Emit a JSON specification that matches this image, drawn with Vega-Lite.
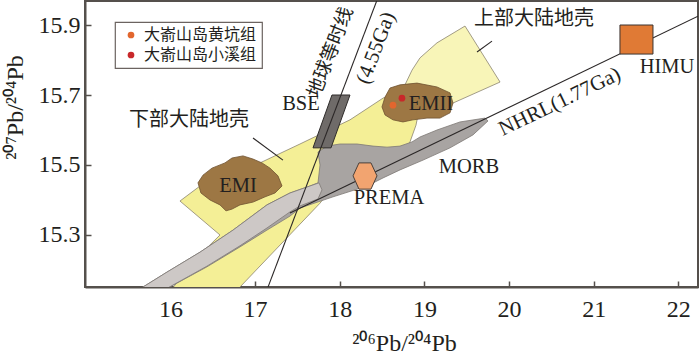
{
  "$schema": "https://vega.github.io/schema/vega-lite/v6.json",
  "width": 613,
  "height": 286,
  "autosize": {"type": "none"},
  "padding": {"left": 85, "top": 1, "right": 2, "bottom": 65},
  "background": "white",
  "config": {
    "view": {"stroke": "#55504c", "strokeWidth": 2},
    "axis": {
      "grid": false,
      "domainColor": "#55504c",
      "domainWidth": 2,
      "tickColor": "#55504c",
      "tickWidth": 1.5,
      "tickSize": -6,
      "labelFont": "Liberation Serif",
      "labelFontSize": 24,
      "labelColor": "#231f20",
      "titleFont": "Liberation Serif",
      "titleFontSize": 24,
      "titleFontWeight": "normal",
      "titleColor": "#231f20",
      "zindex": 1
    },
    "legend": {
      "orient": "none",
      "legendX": 30,
      "legendY": 21,
      "padding": 5,
      "strokeColor": "#6b6360",
      "strokeWidth": 1.2,
      "fillColor": "white",
      "symbolType": "circle",
      "symbolSize": 45,
      "symbolStrokeWidth": 0,
      "symbolOffset": 3,
      "labelOffset": 5,
      "labelFont": "Noto Sans CJK SC",
      "labelFontSize": 16,
      "labelColor": "#231f20",
      "labelLimit": 300,
      "rowPadding": 4
    }
  },
  "datasets": {
    "poly": [
      {"s": "lower", "i": 0, "x": 15.965, "y": 15.13},
      {"s": "lower", "i": 1, "x": 16.737, "y": 15.13},
      {"s": "lower", "i": 2, "x": 17.767, "y": 15.391},
      {"s": "lower", "i": 3, "x": 17.979, "y": 15.457},
      {"s": "lower", "i": 4, "x": 18.476, "y": 15.514},
      {"s": "lower", "i": 5, "x": 18.771, "y": 15.543},
      {"s": "lower", "i": 6, "x": 18.83, "y": 15.566},
      {"s": "lower", "i": 7, "x": 18.901, "y": 15.614},
      {"s": "lower", "i": 8, "x": 18.948, "y": 15.671},
      {"s": "lower", "i": 9, "x": 18.712, "y": 15.714},
      {"s": "lower", "i": 10, "x": 18.511, "y": 15.691},
      {"s": "lower", "i": 11, "x": 18.121, "y": 15.629},
      {"s": "lower", "i": 12, "x": 17.53, "y": 15.56},
      {"s": "lower", "i": 13, "x": 17.058, "y": 15.506},
      {"s": "lower", "i": 14, "x": 16.644, "y": 15.48},
      {"s": "lower", "i": 15, "x": 16.349, "y": 15.44},
      {"s": "lower", "i": 16, "x": 16.112, "y": 15.397},
      {"s": "lower", "i": 17, "x": 16.585, "y": 15.3},
      {"s": "lower", "i": 18, "x": 16.289, "y": 15.229},
      {"s": "lower", "i": 19, "x": 15.965, "y": 15.13},
      {"s": "upper", "i": 0, "x": 18.771, "y": 15.729},
      {"s": "upper", "i": 1, "x": 18.854, "y": 15.771},
      {"s": "upper", "i": 2, "x": 18.948, "y": 15.806},
      {"s": "upper", "i": 3, "x": 19.149, "y": 15.849},
      {"s": "upper", "i": 4, "x": 19.48, "y": 15.897},
      {"s": "upper", "i": 5, "x": 19.894, "y": 15.737},
      {"s": "upper", "i": 6, "x": 19.338, "y": 15.677},
      {"s": "upper", "i": 7, "x": 19.066, "y": 15.651},
      {"s": "upper", "i": 8, "x": 18.771, "y": 15.729},
      {"s": "dark", "i": 0, "x": 15.533, "y": 15.13},
      {"s": "dark", "i": 1, "x": 15.959, "y": 15.194},
      {"s": "dark", "i": 2, "x": 16.349, "y": 15.251},
      {"s": "dark", "i": 3, "x": 16.739, "y": 15.314},
      {"s": "dark", "i": 4, "x": 17.14, "y": 15.386},
      {"s": "dark", "i": 5, "x": 17.412, "y": 15.42},
      {"s": "dark", "i": 6, "x": 17.648, "y": 15.44},
      {"s": "dark", "i": 7, "x": 17.743, "y": 15.449},
      {"s": "dark", "i": 8, "x": 17.767, "y": 15.5},
      {"s": "dark", "i": 9, "x": 17.743, "y": 15.537},
      {"s": "dark", "i": 10, "x": 17.849, "y": 15.554},
      {"s": "dark", "i": 11, "x": 18.003, "y": 15.56},
      {"s": "dark", "i": 12, "x": 18.204, "y": 15.56},
      {"s": "dark", "i": 13, "x": 18.393, "y": 15.554},
      {"s": "dark", "i": 14, "x": 18.558, "y": 15.551},
      {"s": "dark", "i": 15, "x": 18.712, "y": 15.554},
      {"s": "dark", "i": 16, "x": 18.854, "y": 15.566},
      {"s": "dark", "i": 17, "x": 18.948, "y": 15.58},
      {"s": "dark", "i": 18, "x": 19.149, "y": 15.6},
      {"s": "dark", "i": 19, "x": 19.421, "y": 15.623},
      {"s": "dark", "i": 20, "x": 19.716, "y": 15.634},
      {"s": "dark", "i": 21, "x": 19.752, "y": 15.626},
      {"s": "dark", "i": 22, "x": 19.574, "y": 15.586},
      {"s": "dark", "i": 23, "x": 19.303, "y": 15.549},
      {"s": "dark", "i": 24, "x": 18.984, "y": 15.514},
      {"s": "dark", "i": 25, "x": 18.712, "y": 15.486},
      {"s": "dark", "i": 26, "x": 18.511, "y": 15.463},
      {"s": "dark", "i": 27, "x": 18.322, "y": 15.44},
      {"s": "dark", "i": 28, "x": 17.92, "y": 15.409},
      {"s": "dark", "i": 29, "x": 17.53, "y": 15.377},
      {"s": "dark", "i": 30, "x": 17.412, "y": 15.354},
      {"s": "dark", "i": 31, "x": 17.14, "y": 15.314},
      {"s": "dark", "i": 32, "x": 16.821, "y": 15.266},
      {"s": "dark", "i": 33, "x": 16.431, "y": 15.209},
      {"s": "dark", "i": 34, "x": 15.829, "y": 15.13},
      {"s": "dark", "i": 35, "x": 15.533, "y": 15.13},
      {"s": "light", "i": 0, "x": 15.533, "y": 15.13},
      {"s": "light", "i": 1, "x": 15.959, "y": 15.194},
      {"s": "light", "i": 2, "x": 16.349, "y": 15.251},
      {"s": "light", "i": 3, "x": 16.739, "y": 15.314},
      {"s": "light", "i": 4, "x": 17.14, "y": 15.386},
      {"s": "light", "i": 5, "x": 17.412, "y": 15.42},
      {"s": "light", "i": 6, "x": 17.648, "y": 15.44},
      {"s": "light", "i": 7, "x": 17.755, "y": 15.449},
      {"s": "light", "i": 8, "x": 17.79, "y": 15.429},
      {"s": "light", "i": 9, "x": 17.743, "y": 15.403},
      {"s": "light", "i": 10, "x": 17.53, "y": 15.383},
      {"s": "light", "i": 11, "x": 17.412, "y": 15.366},
      {"s": "light", "i": 12, "x": 17.14, "y": 15.32},
      {"s": "light", "i": 13, "x": 16.821, "y": 15.269},
      {"s": "light", "i": 14, "x": 16.431, "y": 15.211},
      {"s": "light", "i": 15, "x": 15.829, "y": 15.13},
      {"s": "light", "i": 16, "x": 15.533, "y": 15.13},
      {"s": "emi", "i": 0, "x": 16.325, "y": 15.449},
      {"s": "emi", "i": 1, "x": 16.384, "y": 15.471},
      {"s": "emi", "i": 2, "x": 16.49, "y": 15.491},
      {"s": "emi", "i": 3, "x": 16.644, "y": 15.506},
      {"s": "emi", "i": 4, "x": 16.727, "y": 15.52},
      {"s": "emi", "i": 5, "x": 16.857, "y": 15.526},
      {"s": "emi", "i": 6, "x": 16.975, "y": 15.517},
      {"s": "emi", "i": 7, "x": 17.081, "y": 15.506},
      {"s": "emi", "i": 8, "x": 17.176, "y": 15.491},
      {"s": "emi", "i": 9, "x": 17.27, "y": 15.469},
      {"s": "emi", "i": 10, "x": 17.318, "y": 15.44},
      {"s": "emi", "i": 11, "x": 17.235, "y": 15.42},
      {"s": "emi", "i": 12, "x": 17.117, "y": 15.409},
      {"s": "emi", "i": 13, "x": 16.975, "y": 15.394},
      {"s": "emi", "i": 14, "x": 16.821, "y": 15.386},
      {"s": "emi", "i": 15, "x": 16.727, "y": 15.374},
      {"s": "emi", "i": 16, "x": 16.656, "y": 15.369},
      {"s": "emi", "i": 17, "x": 16.585, "y": 15.386},
      {"s": "emi", "i": 18, "x": 16.467, "y": 15.4},
      {"s": "emi", "i": 19, "x": 16.36, "y": 15.42},
      {"s": "emi", "i": 20, "x": 16.325, "y": 15.449},
      {"s": "emii", "i": 0, "x": 18.535, "y": 15.694},
      {"s": "emii", "i": 1, "x": 18.594, "y": 15.72},
      {"s": "emii", "i": 2, "x": 18.712, "y": 15.729},
      {"s": "emii", "i": 3, "x": 18.913, "y": 15.734},
      {"s": "emii", "i": 4, "x": 19.149, "y": 15.723},
      {"s": "emii", "i": 5, "x": 19.303, "y": 15.706},
      {"s": "emii", "i": 6, "x": 19.338, "y": 15.677},
      {"s": "emii", "i": 7, "x": 19.303, "y": 15.649},
      {"s": "emii", "i": 8, "x": 19.184, "y": 15.634},
      {"s": "emii", "i": 9, "x": 19.031, "y": 15.634},
      {"s": "emii", "i": 10, "x": 18.865, "y": 15.629},
      {"s": "emii", "i": 11, "x": 18.747, "y": 15.623},
      {"s": "emii", "i": 12, "x": 18.629, "y": 15.629},
      {"s": "emii", "i": 13, "x": 18.535, "y": 15.643},
      {"s": "emii", "i": 14, "x": 18.499, "y": 15.666},
      {"s": "emii", "i": 15, "x": 18.535, "y": 15.694},
      {"s": "bse", "i": 0, "x": 17.684, "y": 15.549},
      {"s": "bse", "i": 1, "x": 17.897, "y": 15.549},
      {"s": "bse", "i": 2, "x": 18.121, "y": 15.7},
      {"s": "bse", "i": 3, "x": 17.908, "y": 15.7},
      {"s": "bse", "i": 4, "x": 17.684, "y": 15.549},
      {"s": "prema", "i": 0, "x": 18.157, "y": 15.469},
      {"s": "prema", "i": 1, "x": 18.227, "y": 15.506},
      {"s": "prema", "i": 2, "x": 18.369, "y": 15.506},
      {"s": "prema", "i": 3, "x": 18.44, "y": 15.469},
      {"s": "prema", "i": 4, "x": 18.369, "y": 15.431},
      {"s": "prema", "i": 5, "x": 18.227, "y": 15.431},
      {"s": "prema", "i": 6, "x": 18.157, "y": 15.469}
    ],
    "lines": [
      {"name": "geochron", "x": 17.152, "y": 15.151, "x2": 18.44, "y2": 15.971},
      {"name": "NHRL", "x": 17.412, "y": 15.363, "x2": 22.233, "y2": 15.925},
      {"name": "lowerLeader", "x": 16.975, "y": 15.577, "x2": 17.329, "y2": 15.514},
      {"name": "upperLeader", "x": 19.622, "y": 15.823, "x2": 19.799, "y2": 15.854}
    ]
  },
  "encoding": {
    "x": {
      "field": "x",
      "type": "quantitative",
      "scale": {"domain": [14.99, 22.233], "nice": false, "zero": false},
      "axis": {
        "values": [16, 17, 18, 19, 20, 21, 22],
        "format": "d",
        "labelPadding": 16,
        "title": "²⁰⁶Pb/²⁰⁴Pb",
        "titleBaseline": "alphabetic",
        "titleX": 319,
        "titleY": 63
      }
    },
    "y": {
      "field": "y",
      "type": "quantitative",
      "scale": {"domain": [15.1514, 15.9686], "nice": false, "zero": false},
      "axis": {
        "values": [15.3, 15.5, 15.7, 15.9],
        "format": ".1f",
        "labelPadding": 11,
        "title": "²⁰⁷Pb/²⁰⁴Pb",
        "titleBaseline": "alphabetic",
        "titleX": -63,
        "titleY": 106
      }
    }
  },
  "layer": [
    {
      "data": {"name": "poly"},
      "transform": [{"filter": "datum.s === 'lower'"}],
      "mark": {"type": "line", "fill": "#f4ef96", "stroke": "#8c8470", "strokeWidth": 0.8, "clip": true},
      "encoding": {"order": {"field": "i", "type": "quantitative"}}
    },
    {
      "data": {"name": "poly"},
      "transform": [{"filter": "datum.s === 'upper'"}],
      "mark": {"type": "line", "fill": "#f8f5b8", "stroke": "#8c8470", "strokeWidth": 0.8, "clip": true},
      "encoding": {"order": {"field": "i", "type": "quantitative"}}
    },
    {
      "data": {"name": "poly"},
      "transform": [{"filter": "datum.s === 'dark'"}],
      "mark": {"type": "line", "fill": "#a8a4a2", "stroke": "#7d7875", "strokeWidth": 0.8, "clip": true},
      "encoding": {"order": {"field": "i", "type": "quantitative"}}
    },
    {
      "data": {"name": "poly"},
      "transform": [{"filter": "datum.s === 'light'"}],
      "mark": {"type": "line", "fill": "#cdc8c6", "stroke": "#7d7875", "strokeWidth": 0.8, "clip": true},
      "encoding": {"order": {"field": "i", "type": "quantitative"}}
    },
    {
      "data": {"name": "poly"},
      "transform": [{"filter": "datum.s === 'emi' || datum.s === 'emii'"}],
      "mark": {"type": "line", "fill": "#9d7744", "stroke": "#6e5230", "strokeWidth": 0.8},
      "encoding": {"order": {"field": "i", "type": "quantitative"}, "detail": {"field": "s"}}
    },
    {
      "data": {"name": "poly"},
      "transform": [{"filter": "datum.s === 'bse'"}],
      "mark": {"type": "line", "fill": "#6f6b69", "stroke": "#2e2b2a", "strokeWidth": 1},
      "encoding": {"order": {"field": "i", "type": "quantitative"}}
    },
    {
      "data": {"name": "lines"},
      "mark": {"type": "rule", "color": "#2b2727", "strokeWidth": 1.1, "clip": true},
      "encoding": {"x2": {"field": "x2"}, "y2": {"field": "y2"}}
    },
    {
      "data": {"name": "poly"},
      "transform": [{"filter": "datum.s === 'prema'"}],
      "mark": {"type": "line", "fill": "#f2a470", "stroke": "#4a403a", "strokeWidth": 1},
      "encoding": {"order": {"field": "i", "type": "quantitative"}}
    },
    {
      "data": {"values": [{"x": 21.311, "y": 15.817, "x2": 21.701, "y2": 15.9}]},
      "mark": {"type": "rect", "fill": "#e07a35", "stroke": "#3a3330", "strokeWidth": 1},
      "encoding": {"x2": {"field": "x2"}, "y2": {"field": "y2"}}
    },
    {
      "data": {"values": [
        {"group": "大嵛山岛黄坑组", "x": 18.629, "y": 15.671},
        {"group": "大嵛山岛小溪组", "x": 18.735, "y": 15.691}
      ]},
      "mark": {"type": "circle", "size": 45, "opacity": 1},
      "encoding": {
        "color": {
          "field": "group",
          "type": "nominal",
          "scale": {"domain": ["大嵛山岛黄坑组", "大嵛山岛小溪组"], "range": ["#e2662e", "#c8282a"]},
          "legend": {"title": null}
        }
      }
    },
    {
      "data": {"values": [
        {"t": "BSE", "x": 17.542, "y": 15.674},
        {"t": "EMI", "x": 16.798, "y": 15.44},
        {"t": "EMII", "x": 19.078, "y": 15.674},
        {"t": "MORB", "x": 19.527, "y": 15.494},
        {"t": "PREMA", "x": 18.582, "y": 15.406},
        {"t": "HIMU", "x": 21.867, "y": 15.78}
      ]},
      "mark": {"type": "text", "font": "Liberation Serif", "fontSize": 20.5, "fill": "#231f20", "align": "center", "baseline": "middle"},
      "encoding": {"text": {"field": "t"}}
    },
    {
      "data": {"values": [
        {"t": "下部大陆地壳", "x": 16.219, "y": 15.629},
        {"t": "上部大陆地壳", "x": 20.295, "y": 15.917}
      ]},
      "mark": {"type": "text", "font": "Noto Sans CJK SC", "fontSize": 20, "fill": "#231f20", "align": "center", "baseline": "middle"},
      "encoding": {"text": {"field": "t"}}
    },
    {
      "data": {"values": [{"t": "地球等时线", "x": 17.89, "y": 15.822}]},
      "mark": {"type": "text", "font": "Noto Sans CJK SC", "fontSize": 19, "fill": "#231f20", "align": "center", "baseline": "middle", "angle": -69},
      "encoding": {"text": {"field": "t"}}
    },
    {
      "data": {"values": [{"t": "(4.55Ga)", "x": 18.43, "y": 15.834}]},
      "mark": {"type": "text", "font": "Liberation Serif", "fontSize": 21, "fill": "#231f20", "align": "center", "baseline": "middle", "angle": -69},
      "encoding": {"text": {"field": "t"}}
    },
    {
      "data": {"values": [{"t": "NHRL(1.77Ga)", "x": 20.601, "y": 15.68}]},
      "mark": {"type": "text", "font": "Liberation Serif", "fontSize": 21, "fill": "#231f20", "align": "center", "baseline": "middle", "angle": -25.7},
      "encoding": {"text": {"field": "t"}}
    }
  ]
}
